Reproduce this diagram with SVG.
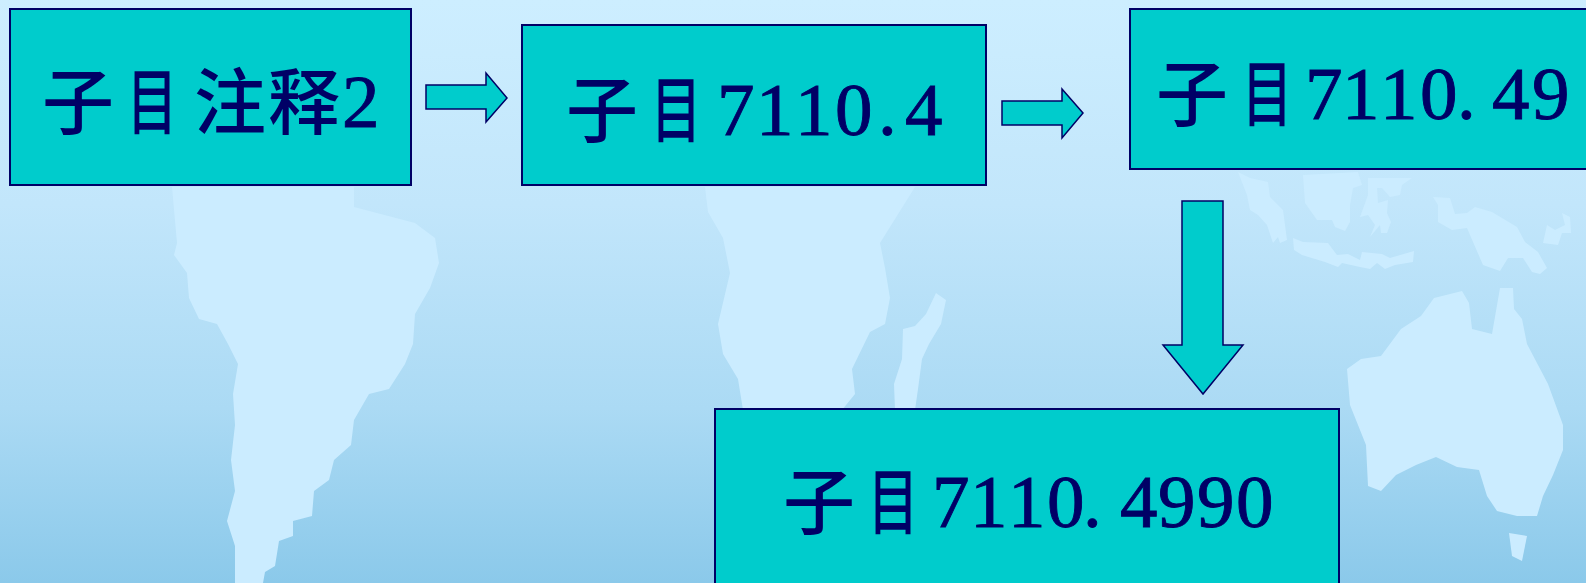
<svg xmlns="http://www.w3.org/2000/svg" width="1586" height="583" viewBox="0 0 1586 583">
<style>
.box{fill:#00cccc;stroke:#000066;stroke-width:2}
.arrow{fill:#00cccc;stroke:#000066;stroke-width:1.5;stroke-linejoin:miter}
.land{fill:#cbecff;stroke:none}
.cjk{font-family:"Noto Sans CJK SC","Noto Sans CJK TC",sans-serif;font-size:72px;font-weight:500;fill:#000066}
.num{font-family:"Liberation Serif",serif;font-size:75px;fill:#000066;stroke:#000066;stroke-width:0.9}
</style>
<defs>
<linearGradient id="bg" x1="0" y1="0" x2="0" y2="1">
<stop offset="0" stop-color="#cdeeff"/><stop offset="0.35" stop-color="#c2e6fb"/><stop offset="0.7" stop-color="#abdaf4"/><stop offset="1" stop-color="#8bc9ea"/>
</linearGradient>
</defs>
<rect width="1586" height="583" fill="url(#bg)"/>
<g id="map">
<polygon class="land" points="172,187 177,243 174,255 187,273 189,298 199,319 217,324 228,344 238,364 233,394 235,425 231,460 235,491 227,521 235,546 235,583 263,583 265,572 275,566 279,541 293,536 293,521 312,516 314,491 329,480 334,460 351,445 354,420 369,394 389,389 405,364 413,344 415,314 430,288 439,263 435,238 415,223 354,207 354,187"/>
<polygon class="land" points="705,187 708,212 723,238 730,273 718,324 723,354 738,379 743,410 842,410 855,394 852,369 870,332 885,324 890,298 885,268 880,243 915,187"/>
<polygon class="land" points="936,293 946,300 941,324 929,344 922,359 918,389 915,410 895,410 894,384 902,359 903,329 915,326 926,314"/>
<polygon class="land" points="1347,369 1361,359 1381,356 1401,329 1421,316 1434,298 1462,291 1469,303 1472,329 1492,334 1500,288 1513,288 1514,309 1522,319 1527,344 1548,384 1563,425 1563,450 1553,475 1543,496 1537,516 1517,516 1497,511 1487,496 1479,470 1457,467 1436,457 1416,465 1396,475 1381,491 1368,486 1366,445 1350,405"/>
<polygon class="land" points="1509,533 1527,536 1522,561 1512,556"/>
<polygon class="land" points="1238,172 1250,178 1268,182 1270,197 1283,210 1287,240 1280,243 1278,237 1273,243 1267,225 1258,215 1250,210 1247,195"/>
<polygon class="land" points="1303,175 1358,172 1362,185 1353,188 1350,205 1350,222 1345,231 1335,227 1332,220 1317,220 1305,203"/>
<polygon class="land" points="1368,178 1412,178 1402,185 1400,195 1390,197 1382,188 1377,188 1378,203 1388,200 1387,213 1391,222 1387,233 1381,233 1380,225 1370,237 1375,225 1368,215 1360,217 1368,195"/>
<polygon class="land" points="1293,238 1303,242 1328,243 1337,255 1348,254 1360,260 1362,252 1382,254 1390,258 1414,251 1413,262 1395,265 1385,269 1377,263 1370,269 1360,267 1342,263 1338,267 1325,262 1302,255 1294,250"/>
<polygon class="land" points="1433,197 1450,198 1455,214 1467,213 1475,207 1492,212 1517,227 1525,242 1538,252 1547,268 1540,274 1532,272 1523,258 1508,258 1500,271 1483,265 1467,228 1452,230 1438,222 1438,205"/>
<polygon class="land" points="1562,213 1570,217 1571,233 1562,233 1558,245 1543,243 1547,225 1555,230 1565,225"/>
</g>
<g id="connectors">
<polygon class="arrow" points="426,85 486,85 486,73 507,98 486,122 486,109 426,109"/>
<polygon class="arrow" points="1002,101 1062,101 1062,89 1083,113 1062,138 1062,125 1002,125"/>
<polygon class="arrow" points="1182,201 1223,201 1223,345 1243,345 1203,394 1163,345 1182,345"/>
</g>
<g id="node-1">
<rect class="box" x="10" y="9" width="401" height="176"/>
<text class="cjk" x="42" y="128">子</text>
<text class="cjk" transform="translate(127,128) scale(0.7,1)">目</text>
<text class="cjk" x="194,268" y="128">注释</text>
<text class="num" x="342" y="127">2</text>
</g>
<g id="node-2">
<rect class="box" x="522" y="25" width="464" height="160"/>
<text class="cjk" x="566" y="136">子</text>
<text class="cjk" transform="translate(651,136) scale(0.7,1)">目</text>
<text class="num" x="717,756,795,835,878,905" y="135">7110.4</text>
</g>
<g id="node-3">
<rect class="box" x="1130" y="9" width="470" height="160"/>
<text class="cjk" x="1156" y="120">子</text>
<text class="cjk" transform="translate(1242,120) scale(0.7,1)">目</text>
<text class="num" x="1305,1342,1380,1420,1457,1492,1532" y="119">7110.49</text>
</g>
<g id="node-4">
<rect class="box" x="715" y="409" width="624" height="190"/>
<text class="cjk" x="783" y="528">子</text>
<text class="cjk" transform="translate(868,528) scale(0.7,1)">目</text>
<text class="num" x="932,970,1008,1047,1083,1120,1158,1197,1236" y="527">7110.4990</text>
</g>
</svg>
